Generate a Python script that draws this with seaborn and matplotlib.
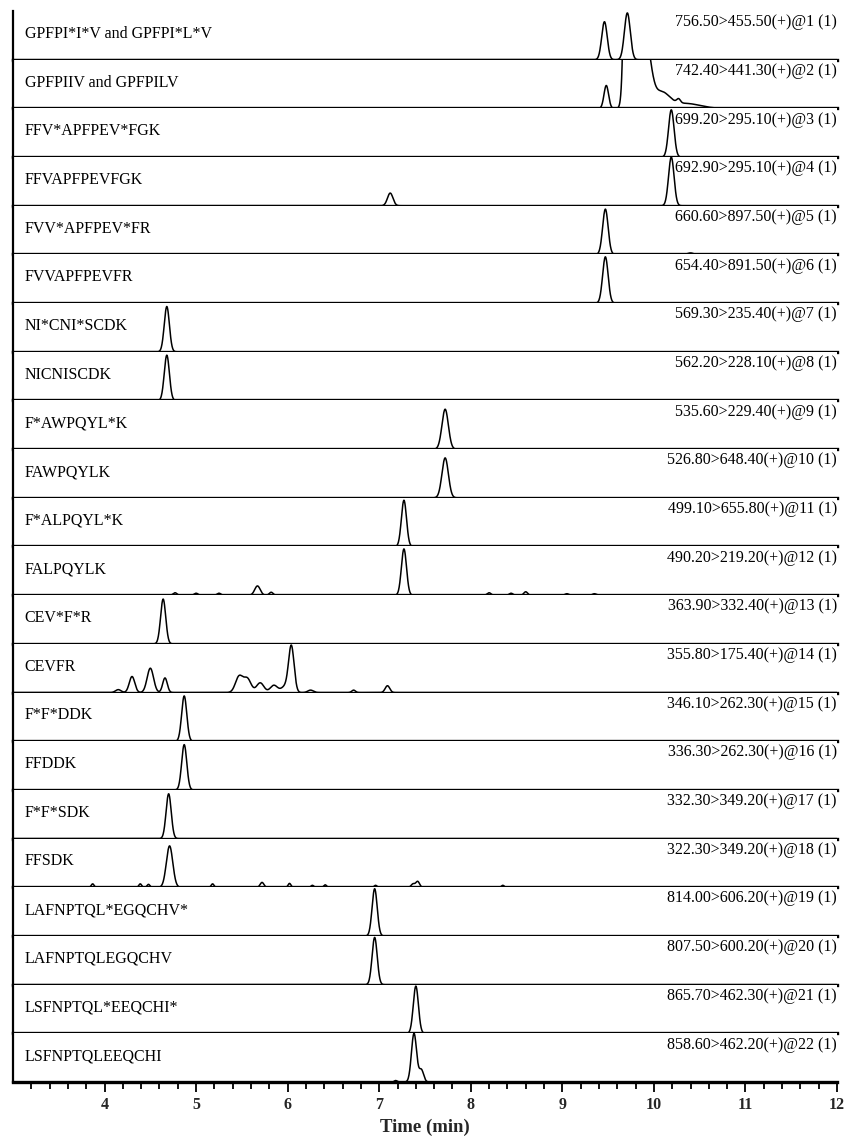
import numpy as np
import pandas as pd
import matplotlib
matplotlib.use("Agg")
import matplotlib.pyplot as plt
import seaborn as sns

# ---------------- data ----------------
peptides = [
    "GPFPI*I*V and GPFPI*L*V", "GPFPIIV and GPFPILV", "FFV*APFPEV*FGK", "FFVAPFPEVFGK",
    "FVV*APFPEV*FR", "FVVAPFPEVFR", "NI*CNI*SCDK", "NICNISCDK", "F*AWPQYL*K",
    "FAWPQYLK", "F*ALPQYL*K", "FALPQYLK", "CEV*F*R", "CEVFR", "F*F*DDK", "FFDDK",
    "F*F*SDK", "FFSDK", "LAFNPTQL*EGQCHV*", "LAFNPTQLEGQCHV", "LSFNPTQL*EEQCHI*",
    "LSFNPTQLEEQCHI",
]
transitions = [
    "756.50>455.50(+)@1 (1)", "742.40>441.30(+)@2 (1)", "699.20>295.10(+)@3 (1)",
    "692.90>295.10(+)@4 (1)", "660.60>897.50(+)@5 (1)", "654.40>891.50(+)@6 (1)",
    "569.30>235.40(+)@7 (1)", "562.20>228.10(+)@8 (1)", "535.60>229.40(+)@9 (1)",
    "526.80>648.40(+)@10 (1)", "499.10>655.80(+)@11 (1)", "490.20>219.20(+)@12 (1)",
    "363.90>332.40(+)@13 (1)", "355.80>175.40(+)@14 (1)", "346.10>262.30(+)@15 (1)",
    "336.30>262.30(+)@16 (1)", "332.30>349.20(+)@17 (1)", "322.30>349.20(+)@18 (1)",
    "814.00>606.20(+)@19 (1)", "807.50>600.20(+)@20 (1)", "865.70>462.30(+)@21 (1)",
    "858.60>462.20(+)@22 (1)",
]
# peak tables: retention time (min), relative height, width (min)
peak_rt = [
    [9.46, 9.71],
    [9.48, 9.74, 9.90, 10.08, 10.27, 10.35],
    [10.19],
    [10.19, 7.12],
    [9.47, 10.4],
    [9.47],
    [4.68],
    [4.68],
    [7.72],
    [7.72],
    [7.27],
    [7.27, 4.77, 5.0, 5.25, 5.67, 5.82, 8.2, 8.44, 8.6, 9.05, 9.35],
    [4.64],
    [4.15, 4.3, 4.5, 4.66, 5.47, 5.56, 5.7, 5.85, 5.97, 6.04, 6.25, 6.72, 7.09],
    [4.87],
    [4.87],
    [4.70],
    [4.71, 3.87, 4.39, 4.48, 5.18, 5.72, 6.02, 6.27, 6.41, 6.96, 7.37, 7.42, 8.35],
    [6.95],
    [6.95],
    [7.40],
    [7.38, 7.46, 7.18],
]
peak_height = [
    [0.78, 0.96],
    [0.47, 20.0, 1.5, 0.32, 0.08, 0.10],
    [0.97],
    [1.00, 0.26],
    [0.93, 0.03],
    [0.95],
    [0.93],
    [0.93],
    [0.82],
    [0.82],
    [0.95],
    [0.95, 0.05, 0.04, 0.04, 0.19, 0.06, 0.05, 0.04, 0.07, 0.03, 0.03],
    [0.92],
    [0.06, 0.33, 0.5, 0.3, 0.33, 0.28, 0.2, 0.15, 0.12, 0.95, 0.05, 0.05, 0.14],
    [0.93],
    [0.93],
    [0.92],
    [0.85, 0.07, 0.07, 0.06, 0.07, 0.1, 0.08, 0.04, 0.05, 0.04, 0.07, 0.12, 0.04],
    [0.97],
    [0.97],
    [0.97],
    [1.00, 0.25, 0.03],
]
peak_width = [
    [0.030, 0.032],
    [0.025, 0.035, 0.06, 0.09, 0.02, 0.15],
    [0.030],
    [0.030, 0.030],
    [0.030, 0.03],
    [0.030],
    [0.028],
    [0.028],
    [0.035],
    [0.035],
    [0.028],
    [0.028, 0.02, 0.02, 0.02, 0.03, 0.02, 0.02, 0.02, 0.02, 0.02, 0.02],
    [0.028],
    [0.03, 0.03, 0.035, 0.025, 0.04, 0.04, 0.04, 0.04, 0.04, 0.03, 0.03, 0.02, 0.025],
    [0.028],
    [0.028],
    [0.028],
    [0.035, 0.015, 0.015, 0.015, 0.015, 0.02, 0.015, 0.015, 0.015, 0.015, 0.02, 0.02, 0.015],
    [0.028],
    [0.028],
    [0.028],
    [0.028, 0.025, 0.015],
]
x_major = [4, 5, 6, 7, 8, 9, 10, 11, 12]
x_label = "Time (min)"

# ---------------- build traces ----------------
t = np.linspace(3.0, 12.0, 3601)
rows = []
for i, name in enumerate(peptides):
    y = np.zeros_like(t)
    for rt, h, w in zip(peak_rt[i], peak_height[i], peak_width[i]):
        y += h * np.exp(-0.5 * ((t - rt) / w) ** 2)
    rows.append(pd.DataFrame({"time": t, "signal": y, "panel": i}))
df = pd.concat(rows, ignore_index=True)

# ---------------- plot ----------------
sns.set_theme(style="white")
plt.rcParams["font.family"] = ["Liberation Serif", "DejaVu Serif"]

W, H = 854, 1136
fig, axes = plt.subplots(len(peptides), 1, sharex=True, figsize=(W / 100, H / 100), dpi=100,
                         gridspec_kw={"hspace": 0})
fig.subplots_adjust(left=13 / W, right=837 / W, top=1 - 11 / H, bottom=1 - 1082 / H)

for i, ax in enumerate(axes):
    d = df[df["panel"] == i]
    sns.lineplot(data=d, x="time", y="signal", ax=ax, color="black", linewidth=1.1,
                 estimator=None, sort=False)
    ax.set_xlim(3, 12)
    ax.set_ylim(0, 1.0)
    ax.set_ylabel("")
    ax.set_xlabel("")
    ax.set_yticks([])
    for s in ["top", "right"]:
        ax.spines[s].set_visible(False)
    ax.spines["left"].set_linewidth(1.6)
    ax.spines["bottom"].set_linewidth(2.4)
    ax.spines["left"].set_color("black")
    ax.spines["bottom"].set_color("black")
    ax.text(0.014, 0.53, peptides[i], transform=ax.transAxes, ha="left", va="center",
            fontsize=11.5, color="black")
    ax.text(1.0, 0.77, transitions[i], transform=ax.transAxes, ha="right", va="center",
            fontsize=11.5, color="black")
    ax.tick_params(axis="x", which="both", bottom=False, labelbottom=False)

axb = axes[-1]
axb.set_xticks(x_major)
axb.set_xticks(np.arange(3.2, 12.0, 0.2), minor=True)
axb.tick_params(axis="x", which="major", bottom=True, labelbottom=True, direction="out",
                length=7, width=1.3, color="black", labelsize=11.5, pad=4)
axb.tick_params(axis="x", which="minor", bottom=True, direction="out", length=5,
                width=1.3, color="black")
for lab in axb.get_xticklabels():
    lab.set_fontweight("bold")
axb.set_xlabel(x_label, fontsize=13.5, fontweight="bold", labelpad=4)

fig.savefig("out.png", dpi=100)
